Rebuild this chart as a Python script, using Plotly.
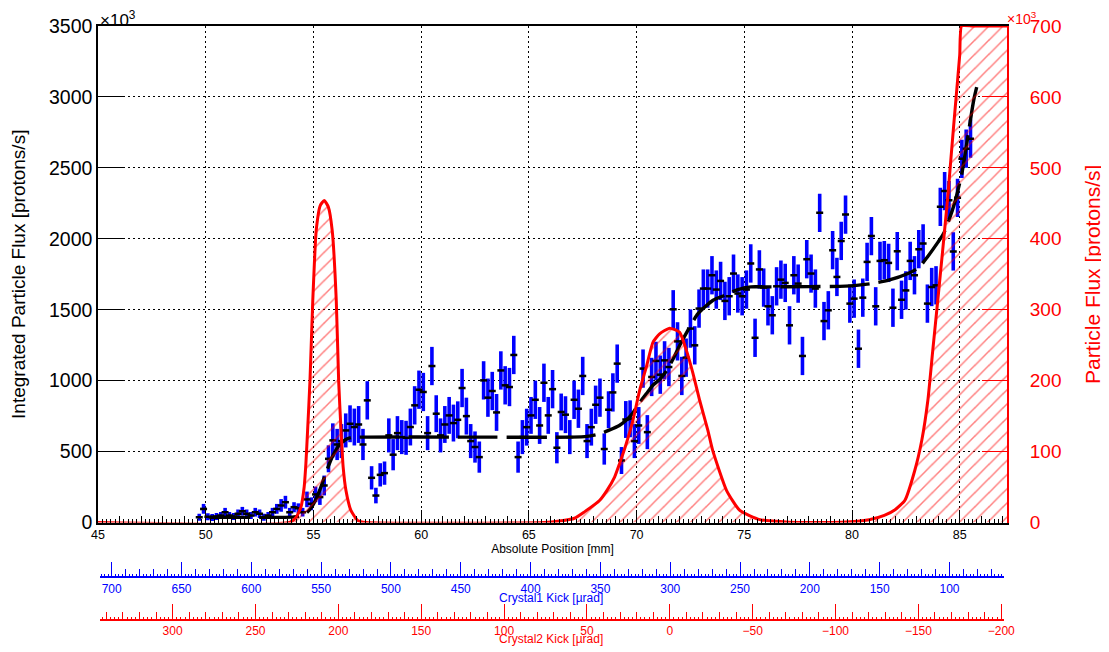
import plotly.graph_objects as go

# ---------------- data ----------------
# scan positions [mm]
position_mm = [
    49.7, 49.9, 50.1, 50.3, 50.5, 50.7, 50.9, 51.1, 51.3, 51.5,
    51.7, 51.9, 52.1, 52.3, 52.5, 52.7, 52.9, 53.1, 53.3, 53.5,
    53.7, 53.9, 54.1, 54.3, 54.5, 54.7, 54.9, 55.1, 55.3, 55.5,
    55.7, 55.9, 56.1, 56.3, 56.5, 56.7, 56.9, 57.1, 57.3, 57.5,
    57.7, 57.9, 58.1, 58.3, 58.5, 58.7, 58.9, 59.1, 59.3, 59.5,
    59.7, 59.9, 60.1, 60.3, 60.5, 60.7, 60.9, 61.1, 61.3, 61.5,
    61.7, 61.9, 62.1, 62.3, 62.5, 62.7, 62.9, 63.1, 63.3, 63.5,
    63.7, 63.9, 64.1, 64.3, 64.5, 64.7, 64.9, 65.1, 65.3, 65.5,
    65.7, 65.9, 66.1, 66.3, 66.5, 66.7, 66.9, 67.1, 67.3, 67.5,
    67.7, 67.9, 68.1, 68.3, 68.5, 68.7, 68.9, 69.1, 69.3, 69.5,
    69.7, 69.9, 70.1, 70.3, 70.5, 70.7, 70.9, 71.1, 71.3, 71.5,
    71.7, 71.9, 72.1, 72.3, 72.5, 72.7, 72.9, 73.1, 73.3, 73.5,
    73.7, 73.9, 74.1, 74.3, 74.5, 74.7, 74.9, 75.1, 75.3, 75.5,
    75.7, 75.9, 76.1, 76.3, 76.5, 76.7, 76.9, 77.1, 77.3, 77.5,
    77.7, 77.9, 78.1, 78.3, 78.5, 78.7, 78.9, 79.1, 79.3, 79.5,
    79.7, 79.9, 80.1, 80.3, 80.5, 80.7, 80.9, 81.1, 81.3, 81.5,
    81.7, 81.9, 82.1, 82.3, 82.5, 82.7, 82.9, 83.1, 83.3, 83.5,
    83.7, 83.9, 84.1, 84.3, 84.5, 84.7, 84.9, 85.1, 85.3, 85.5,
]
# integrated particle flux [x10^3 protons/s]
integrated_flux = [
    37, 96, 40, 35, 42, 49, 73, 49, 42, 61,
    80, 61, 49, 73, 61, 37, 49, 73, 96, 120,
    143, 73, 108, 100, 73, 163, 132, 198, 179, 261,
    449, 579, 550, 574, 649, 696, 673, 691, 550, 861,
    315, 190, 336, 348, 614, 478, 630, 602, 597, 673,
    826, 936, 920, 630, 1103, 767, 614, 691, 755, 701,
    724, 948, 750, 574, 532, 461, 1002, 880, 927, 776,
    1072, 967, 955, 1181, 461, 602, 672, 755, 865, 684,
    985, 755, 940, 527, 779, 760, 602, 865, 802, 1033,
    574, 672, 830, 880, 518, 795, 917, 1120, 437, 726,
    731, 574, 684, 1085, 637, 1026, 1139, 1042, 1143, 1096,
    1503, 1277, 1033, 1162, 1367, 1249, 1508, 1649, 1649, 1743,
    1642, 1703, 1562, 1595, 1755, 1614, 1595, 1642, 1826, 1302,
    1784, 1656, 1524, 1461, 1665, 1712, 1689, 1390, 1743, 1684,
    1174, 1856, 1755, 1649, 2183, 1420, 1496, 1920, 1731, 1985,
    2171, 1543, 1578, 1225, 1585, 1837, 2019, 1524, 1844, 1849,
    1830, 1514, 1913, 1570, 1636, 1844, 1743, 1927, 1967, 1543,
    1660, 1672, 2225, 2336, 2272, 1911, 2289, 2564, 2635, 2706,
]
# error bar half-lengths [x10^3 protons/s]
flux_error = [
    25, 35, 25, 25, 25, 25, 30, 25, 25, 30,
    30, 30, 25, 30, 30, 25, 25, 30, 35, 45,
    45, 30, 35, 35, 30, 55, 45, 55, 55, 70,
    95, 120, 110, 120, 120, 130, 130, 130, 110, 135,
    82, 55, 82, 82, 120, 110, 120, 120, 120, 130,
    135, 135, 135, 120, 135, 130, 120, 130, 130, 130,
    130, 135, 130, 120, 110, 110, 135, 135, 135, 130,
    135, 135, 135, 135, 110, 120, 130, 130, 135, 130,
    135, 130, 135, 110, 130, 130, 120, 135, 135, 135,
    120, 130, 135, 135, 110, 130, 135, 135, 95, 130,
    130, 120, 130, 135, 120, 135, 135, 135, 135, 135,
    135, 135, 135, 135, 135, 135, 135, 135, 135, 135,
    135, 135, 135, 135, 135, 135, 135, 135, 135, 135,
    135, 135, 135, 135, 135, 135, 135, 135, 135, 135,
    135, 135, 135, 135, 135, 135, 135, 135, 135, 135,
    135, 135, 135, 135, 135, 135, 135, 135, 135, 135,
    135, 135, 135, 135, 135, 135, 135, 135, 135, 135,
    135, 135, 135, 135, 135, 135, 135, 135, 135, 135,
]
# fitted integrated flux (black dashed curve)
fit_position = [50.2, 54.0, 54.4, 54.7, 55.0, 55.3, 55.6, 55.9, 56.2, 56.5,
                56.8, 57.5, 62.0, 67.0, 67.7, 68.3, 68.7, 69.2, 69.5, 69.8,
                70.1, 70.45, 70.75, 71.1, 71.4, 71.7, 72.0, 72.4, 72.85, 73.55,
                74.1, 74.7, 75.3, 76.0, 78.0, 79.7, 80.9, 81.7, 82.6, 83.1,
                83.5, 84.0, 84.25, 84.5, 84.8, 85.1, 85.4, 85.65, 85.85]
fit_flux = [37, 38, 45, 70, 130, 230, 360, 470, 545, 585,
            600, 602, 602, 602, 607, 625, 649, 684, 719, 766,
            837, 907, 966, 1013, 1072, 1154, 1248, 1360, 1472, 1567,
            1602, 1642, 1661, 1661, 1663, 1666, 1684, 1708, 1755, 1797,
            1872, 1978, 2037, 2131, 2272, 2461, 2743, 2978, 3107]
# particle flux profile (red hatched curve, right axis) [x10^3 protons/s]
profile_position = [45.0, 53.9, 54.2, 54.42, 54.57, 54.65, 54.73, 54.84, 54.97, 55.13,
                    55.32, 55.5, 55.69, 55.87, 56.06, 56.17, 56.28, 56.38, 56.51, 56.74,
                    57.05, 57.44, 65.7, 66.42, 67.12, 67.58, 68.28, 68.62, 68.98, 69.21,
                    69.52, 69.83, 70.14, 70.45, 70.76, 71.07, 71.54, 72.0, 72.31, 72.62,
                    72.93, 73.31, 73.53, 74.18, 74.79, 75.72, 77.1, 79.5, 80.8, 81.5,
                    82.0, 82.45, 82.91, 83.24, 83.52, 83.75, 83.98, 84.21, 84.45, 84.72,
                    85.0, 85.09, 85.6, 86.4, 87.2]
profile_flux = [0, 0, 7.5, 21.6, 50, 83, 130, 200, 313, 412,
                447, 454, 445, 412, 313, 200, 130, 78, 45, 17,
                3, 0, 0, 2, 6, 15, 31, 45, 64, 83,
                111, 144, 186, 219, 254, 266, 274, 268, 243, 210,
                172, 130, 102, 45, 17, 4, 0.5, 0.5, 4, 10,
                18, 31, 73, 116, 172, 243, 313, 384, 461, 560,
                659, 700, 700, 700, 700]

position_ticks = [45, 50, 55, 60, 65, 70, 75, 80, 85]
integrated_ticks = [0, 500, 1000, 1500, 2000, 2500, 3000, 3500]
profile_ticks = [0, 100, 200, 300, 400, 500, 600, 700]
crystal1_ticks = [700, 650, 600, 550, 500, 450, 400, 350, 300, 250, 200, 150, 100]
crystal2_ticks = [300, 250, 200, 150, 100, 50, 0, -50, -100, -150, -200]

# ---------------- layout helpers ----------------
# the page body has an 8 px margin, so the figure is drawn 8 px lower/righter
OFF = 8
W, H = 1109 - OFF, 652 - OFF
ML, MT, MB = 98 - OFF, 26 - OFF, 0
MR = W - (1007 - OFF)
PW = W - ML - MR
PH = H - MT - MB
FONT = "Liberation Sans"
BLUE = "#0000ff"
RED = "#ff0000"


def fx(px):
    """window pixel x -> paper fraction"""
    return (px - OFF - ML) / PW


def fy(py):
    """window pixel y -> paper fraction"""
    return (H - MB - (py - OFF)) / PH


PX_PER_MM = 21.543
x_range = [45, 45 + PW / PX_PER_MM]
# kick axes: pixel span and scale
K_LEFT, K_RIGHT = 99.5, 1004.0
c1_range = [700 - (K_LEFT - 111.7) / 1.3963, 700 - (K_RIGHT - 111.7) / 1.3963]
c2_range = [(669.8 - K_LEFT) / 1.6573, (669.8 - K_RIGHT) / 1.6573]

fig = go.Figure()

fig.add_trace(go.Scatter(
    x=position_mm, y=integrated_flux, mode="markers",
    marker=dict(symbol="line-ew", size=5, color="black",
                line=dict(width=2.5, color="black")),
    error_y=dict(type="data", array=flux_error, color=BLUE, thickness=3.6, width=0),
    xaxis="x", yaxis="y", showlegend=False, hoverinfo="x+y"))

fig.add_trace(go.Scatter(
    x=fit_position, y=fit_flux, mode="lines",
    line=dict(color="black", width=3.4, dash="40px,9px", shape="spline", smoothing=0.6),
    xaxis="x", yaxis="y", showlegend=False))

fig.add_trace(go.Scatter(
    x=profile_position, y=profile_flux, mode="lines",
    line=dict(color=RED, width=3, shape="spline", smoothing=0.5),
    fill="tozeroy", fillcolor="rgba(0,0,0,0)",
    fillpattern=dict(shape="/", fgcolor=RED, bgcolor="rgba(0,0,0,0)",
                     size=10, solidity=0.15, fillmode="overlay"),
    xaxis="x", yaxis="y2", showlegend=False))

# empty traces so that the extra tick axes are created
fig.add_trace(go.Scatter(x=[], y=[], xaxis="x6", yaxis="y", showlegend=False,
                         hoverinfo="skip"))
for ax in ["x2", "x3", "x4", "x5"]:
    fig.add_trace(go.Scatter(x=[], y=[], xaxis=ax, yaxis="y3", showlegend=False,
                             hoverinfo="skip"))

dotgrid = dict(showgrid=True, gridcolor="black", gridwidth=1, griddash="2px,3px")

fig.update_layout(
    width=W, height=H, template="none",
    margin=dict(l=ML, r=MR, t=MT, b=MB, autoexpand=False),
    paper_bgcolor="white", plot_bgcolor="rgba(0,0,0,0)",
    font=dict(family=FONT, color="black"),
    xaxis=dict(
        domain=[0, 1], range=x_range, anchor="y",
        tickmode="array", tickvals=position_ticks,
        ticks="inside", ticklen=13, tickwidth=1, tickcolor="black",
        minor=dict(dtick=1, tick0=45, ticks="inside", ticklen=7, tickwidth=1,
                   tickcolor="black", showgrid=False),
        showline=True, linecolor="black", linewidth=1.5, mirror=True,
        zeroline=False, tickfont=dict(size=12.5), automargin=False,
        title=dict(text="Absolute Position [mm]", font=dict(size=12), standoff=2),
        **dotgrid),
    xaxis6=dict(
        overlaying="x", anchor="y", range=x_range, side="bottom",
        tickmode="linear", tick0=45, dtick=0.2,
        ticks="inside", ticklen=3.5, tickwidth=1, tickcolor="black",
        showticklabels=False, showgrid=False, zeroline=False, showline=False),
    yaxis=dict(
        domain=[fy(522.5), 1], range=[0, 3500], anchor="x",
        tickmode="array", tickvals=integrated_ticks,
        ticks="inside", ticklen=25, tickwidth=1, tickcolor="black",
        showline=True, linecolor="black", linewidth=1.5, mirror=True,
        zeroline=False, tickfont=dict(size=19.5), automargin=False,
        title=dict(text="Integrated Particle Flux [protons/s]", font=dict(size=19),
                   standoff=20),
        **dotgrid),
    yaxis2=dict(
        overlaying="y", side="right", anchor="x", range=[0, 700],
        tickmode="array", tickvals=profile_ticks,
        ticks="inside", ticklen=25, tickwidth=1.2, tickcolor=RED,
        showline=True, linecolor=RED, linewidth=2, showgrid=False, zeroline=False,
        tickfont=dict(size=19, color=RED), ticklabelstandoff=17, automargin=False,
        title=dict(text="Particle Flux [protons/s]", font=dict(size=21, color=RED),
                   standoff=25)),
    yaxis3=dict(domain=[0, 0.02], visible=False, range=[0, 1]),
    # Crystal1 kick axis (blue)
    xaxis2=dict(
        domain=[fx(K_LEFT), fx(K_RIGHT)], anchor="free", position=fy(577.3),
        range=c1_range, tickmode="array", tickvals=crystal1_ticks,
        ticks="inside", ticklen=14, tickwidth=1.3, tickcolor=BLUE,
        minor=dict(dtick=10, tick0=0, ticks="inside", ticklen=7, tickwidth=1,
                   tickcolor=BLUE, showgrid=False),
        showline=True, linecolor=BLUE, linewidth=2, showgrid=False, zeroline=False,
        tickfont=dict(size=12, color=BLUE), automargin=False),
    xaxis3=dict(
        overlaying="x2", anchor="free", position=fy(577.3), range=c1_range,
        tickmode="linear", tick0=0, dtick=2.5,
        ticks="inside", ticklen=3.5, tickwidth=1, tickcolor=BLUE,
        showticklabels=False, showgrid=False, zeroline=False, showline=False),
    # Crystal2 kick axis (red)
    xaxis4=dict(
        domain=[fx(K_LEFT), fx(K_RIGHT)], anchor="free", position=fy(620),
        range=c2_range, tickmode="array", tickvals=crystal2_ticks,
        ticks="inside", ticklen=15, tickwidth=1.3, tickcolor=RED,
        minor=dict(dtick=10, tick0=0, ticks="inside", ticklen=7, tickwidth=1,
                   tickcolor=RED, showgrid=False),
        showline=True, linecolor=RED, linewidth=2, showgrid=False, zeroline=False,
        tickfont=dict(size=12, color=RED), automargin=False),
    xaxis5=dict(
        overlaying="x4", anchor="free", position=fy(620), range=c2_range,
        tickmode="linear", tick0=0, dtick=2.5,
        ticks="inside", ticklen=3.5, tickwidth=1, tickcolor=RED,
        showticklabels=False, showgrid=False, zeroline=False, showline=False),
    annotations=[
        dict(text="×10<sup>3</sup>", x=fx(98), y=fy(19), xref="paper", yref="paper",
             xanchor="left", yanchor="middle", showarrow=False,
             font=dict(size=17, color="black")),
        dict(text="×10<sup>3</sup>", x=fx(1005), y=fy(18), xref="paper", yref="paper",
             xanchor="left", yanchor="middle", showarrow=False,
             font=dict(size=14, color=RED)),
        dict(text="Crystal1 Kick [µrad]", x=fx(551), y=fy(597.5), xref="paper",
             yref="paper", xanchor="center", yanchor="middle", showarrow=False,
             font=dict(size=12, color=BLUE)),
        dict(text="Crystal2 Kick [µrad]", x=fx(551), y=fy(639), xref="paper",
             yref="paper", xanchor="center", yanchor="middle", showarrow=False,
             font=dict(size=12, color=RED)),
    ],
)

fig.write_html("out.html")
